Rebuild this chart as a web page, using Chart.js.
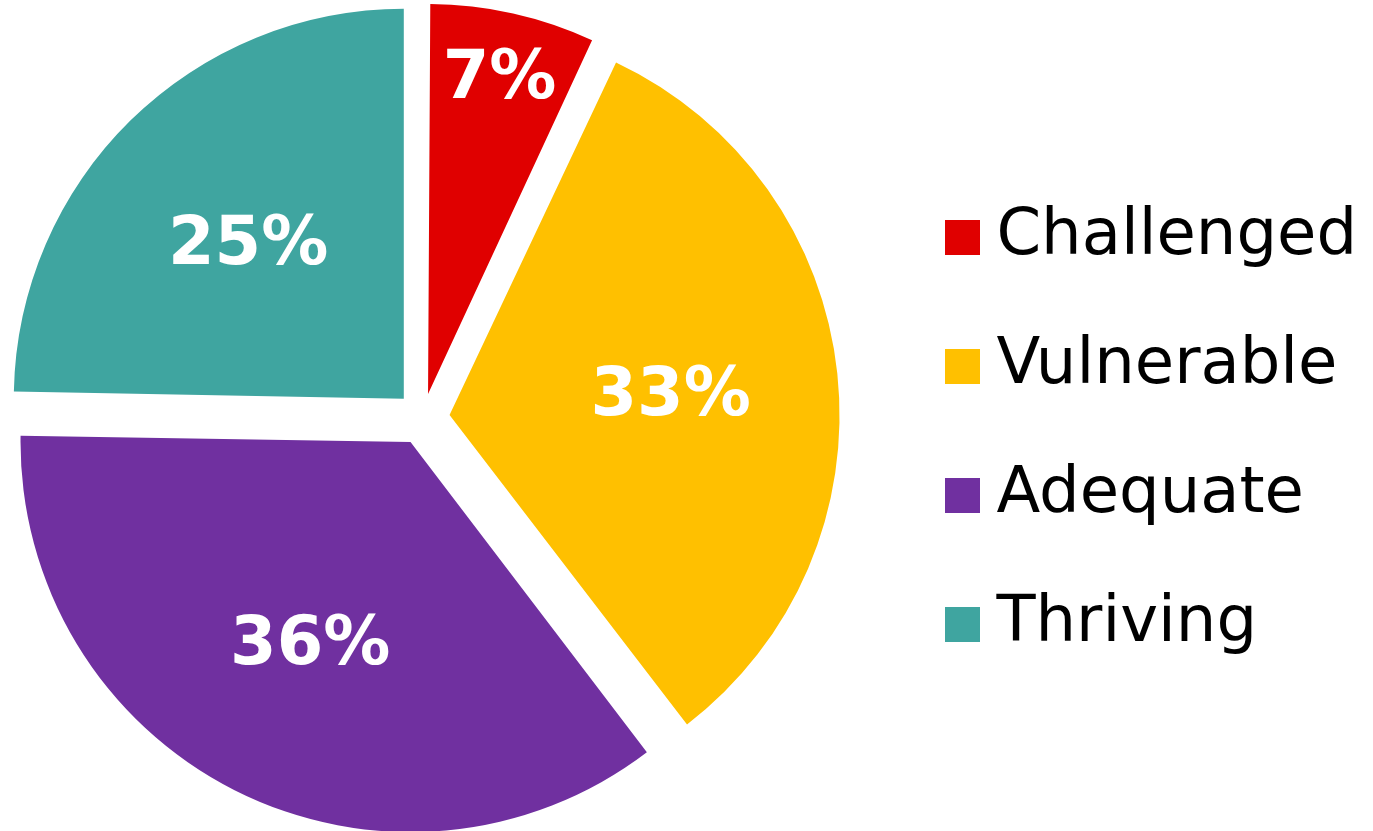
<!DOCTYPE html>
<html lang="en">
<head>
  <meta charset="UTF-8" />
  <title>Pie chart</title>
  <script src="https://cdn.jsdelivr.net/npm/chart.js"></script>
  <style>
    html, body { margin: 0; padding: 0; background: #fff; overflow: hidden; }
    #chart-container { width: 1373px; height: 831px; overflow: hidden; position: relative; }
    #pieChart { position: absolute; left: -51px; top: -26px; }
  </style>
</head>
<body>
  <div id="chart-container">
    <canvas id="pieChart" width="1424" height="888"></canvas>
  </div>
  <script>
    const categories = ["Challenged", "Vulnerable", "Adequate", "Thriving"];
    const shares = [7.0, 32.6, 35.7, 24.7];
    const valueLabels = ["7%", "33%", "36%", "25%"];
    const colors = ["#E00000", "#FFC000", "#7030A0", "#3FA5A0"];
    // how far each slice is pulled out (chart.js moves a slice by offset / 4)
    const explode = [98, 108, 108, 108];

    // square legend markers as small canvases so the gap to the text stays tight
    const makeSwatch = (color) => {
      const c = document.createElement("canvas");
      c.width = 35;
      c.height = 35;
      const g = c.getContext("2d");
      g.fillStyle = color;
      g.fillRect(0, 0, 35, 35);
      return c;
    };

    // chart.js grows narrow exploded slices; keep every slice on the same radius
    const evenRadius = {
      id: "evenRadius",
      beforeDatasetsDraw(chart) {
        const meta = chart.getDatasetMeta(0);
        const base = meta.controller.outerRadius;
        meta.data.forEach((arc) => {
          const fix = 1 - Math.sin(Math.min(Math.PI, arc.circumference));
          arc.outerRadius = base - ((arc.options.offset || 0) / 4) * fix;
        });
      }
    };

    const sliceLabels = {
      id: "sliceLabels",
      afterDatasetsDraw(chart) {
        const { ctx } = chart;
        const meta = chart.getDatasetMeta(0);
        const base = meta.controller.outerRadius;
        ctx.save();
        ctx.fillStyle = "#ffffff";
        ctx.font = "bold 67px 'DejaVu Sans'";
        ctx.textAlign = "center";
        ctx.textBaseline = "alphabetic";
        meta.data.forEach((arc, i) => {
          const mid = (arc.startAngle + arc.endAngle) / 2;
          const shift = (arc.options.offset || 0) / 4;
          const frac = shares[i] < 10 ? 0.84 : 0.57;
          const r = shift + base * frac;
          const x = arc.x + Math.cos(mid) * r;
          const y = arc.y + Math.sin(mid) * r;
          ctx.fillText(valueLabels[i], x, y + 24);
        });
        ctx.restore();
      }
    };

    const ctx = document.getElementById("pieChart").getContext("2d");
    new Chart(ctx, {
      type: "pie",
      data: {
        labels: categories,
        datasets: [{
          data: shares,
          backgroundColor: colors,
          borderWidth: 0,
          offset: explode,
          hoverOffset: 0
        }]
      },
      options: {
        responsive: false,
        animation: false,
        events: [],
        layout: {
          padding: { top: 0, bottom: 0, left: 0, right: 6 }
        },
        plugins: {
          tooltip: { enabled: false },
          legend: {
            position: "right",
            align: "center",
            title: {
              display: true,
              text: "",
              font: { size: 10 },
              padding: 7
            },
            labels: {
              usePointStyle: true,
              pointStyleWidth: 3,
              boxHeight: 35,
              padding: 65,
              color: "#000000",
              font: { family: "'DejaVu Sans'", size: 64 },
              generateLabels: (chart) => categories.map((name, i) => ({
                text: name,
                fillStyle: colors[i],
                strokeStyle: colors[i],
                fontColor: "#000000",
                lineWidth: 0,
                pointStyle: makeSwatch(colors[i]),
                hidden: false,
                index: i
              }))
            }
          }
        }
      },
      plugins: [evenRadius, sliceLabels]
    });
  </script>
</body>
</html>
